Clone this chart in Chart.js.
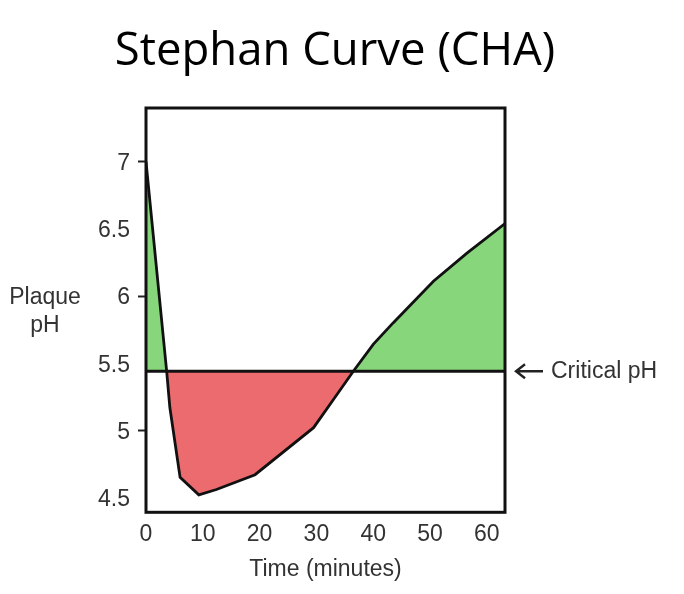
<!DOCTYPE html>
<html>
<head>
<meta charset="utf-8">
<script src="https://cdn.jsdelivr.net/npm/chart.js@4.4.1/dist/chart.umd.min.js"></script>
<style>
  html, body { margin: 0; padding: 0; background: #ffffff; }
  #wrap { width: 684px; height: 594px; }
</style>
</head>
<body>
<div id="wrap"><canvas id="c" width="684" height="594"></canvas></div>
<script>
// ---- data ----
const chartTitle = 'Stephan Curve (CHA)';
const xAxisTitle = 'Time (minutes)';
const yAxisTitleLines = ['Plaque', 'pH'];
const criticalLabel = 'Critical pH';

const times    = [0, 3.64, 4.2, 6.0, 9.3, 12.4, 19.2, 29.5, 33.0, 36.5, 40.0, 43.5, 50.6, 56.5, 63.2];
const plaquePH = [7.0, 5.44, 5.17, 4.65, 4.52, 4.56, 4.67, 5.02, 5.23, 5.44, 5.64, 5.80, 6.11, 6.32, 6.54];
const criticalPH = 5.44;

const xTicks = [0, 10, 20, 30, 40, 50, 60];
const yTicks = [4.5, 5, 5.5, 6, 6.5, 7];
const yTickLabels = ['4.5', '5', '5.5', '6', '6.5', '7'];
const yMajorTicks = [5, 6, 7];

const xMin = 0, xMax = 63.2;
const yMin = 4.39, yMax = 7.4;

// ---- styling ----
const GREEN = '#88d67b';
const RED = '#ec6b6f';
const LABEL_FONT = "'Liberation Sans', Arial, sans-serif";
const LABEL_SIZE = 23;
const TEXT_COLOR = '#333333';

const curvePoints = times.map((t, i) => ({ x: t, y: plaquePH[i] }));
const criticalPoints = [{ x: xMin, y: criticalPH }, { x: xMax, y: criticalPH }];

const decorations = {
  id: 'decorations',
  afterDraw(chart) {
    const { ctx, chartArea: a } = chart;
    ctx.save();
    // frame
    ctx.strokeStyle = '#111';
    ctx.lineWidth = 3;
    ctx.strokeRect(a.left, a.top, a.right - a.left, a.bottom - a.top);

    // title
    ctx.fillStyle = '#000';
    ctx.font = "45.5px 'Open Sans', sans-serif";
    ctx.textAlign = 'center';
    ctx.textBaseline = 'alphabetic';
    ctx.fillText(chartTitle, 335, 65);

    // y axis title (horizontal, two lines)
    ctx.fillStyle = TEXT_COLOR;
    ctx.font = LABEL_SIZE + 'px ' + LABEL_FONT;
    ctx.textBaseline = 'middle';
    ctx.fillText(yAxisTitleLines[0], 45, 298);
    ctx.fillText(yAxisTitleLines[1], 45, 326);

    // critical pH arrow + label
    const yC = chart.scales.y.getPixelForValue(criticalPH);
    const x0 = a.right + 11, x1 = a.right + 38;
    ctx.strokeStyle = '#222';
    ctx.lineWidth = 2.4;
    ctx.beginPath();
    ctx.moveTo(x1, yC);
    ctx.lineTo(x0 + 1, yC);
    ctx.moveTo(x0 + 9, yC - 7);
    ctx.lineTo(x0, yC);
    ctx.lineTo(x0 + 9, yC + 7);
    ctx.stroke();
    ctx.fillStyle = TEXT_COLOR;
    ctx.textAlign = 'left';
    ctx.fillText(criticalLabel, a.right + 46, yC);
    ctx.restore();
  }
};

new Chart(document.getElementById('c'), {
  type: 'line',
  data: {
    datasets: [
      {
        label: 'Critical pH',
        data: criticalPoints,
        borderColor: '#111',
        borderWidth: 3,
        pointRadius: 0,
        fill: false,
        tension: 0
      },
      {
        label: 'Plaque pH',
        data: curvePoints,
        borderColor: '#111',
        borderWidth: 2.8,
        pointRadius: 0,
        tension: 0,
        fill: { target: { value: criticalPH }, above: GREEN, below: RED }
      }
    ]
  },
  options: {
    responsive: false,
    animation: false,
    devicePixelRatio: 1,
    layout: { padding: { left: 0, right: 179, top: 108, bottom: 0 } },
    plugins: {
      legend: { display: false },
      tooltip: { enabled: false },
      title: { display: false }
    },
    scales: {
      x: {
        type: 'linear',
        min: xMin,
        max: xMax,
        afterBuildTicks: (s) => { s.ticks = xTicks.map(v => ({ value: v })); },
        afterFit: (s) => { s.height = 594 - 512.3; },
        grid: { display: false, drawTicks: false },
        border: { display: false },
        ticks: {
          color: TEXT_COLOR,
          font: { family: LABEL_FONT, size: LABEL_SIZE },
          padding: 9,
          maxRotation: 0,
          autoSkip: false,
          callback: (v) => String(v)
        },
        title: {
          display: true,
          text: xAxisTitle,
          color: TEXT_COLOR,
          font: { family: LABEL_FONT, size: LABEL_SIZE },
          padding: { top: 0, bottom: 11 }
        }
      },
      y: {
        type: 'linear',
        min: yMin,
        max: yMax,
        afterBuildTicks: (s) => { s.ticks = yTicks.map(v => ({ value: v })); },
        afterFit: (s) => { s.width = 146; },
        grid: {
          display: true,
          drawOnChartArea: false,
          drawTicks: true,
          tickLength: 8,
          tickWidth: 2,
          tickColor: (ctx) => (ctx.tick && yMajorTicks.includes(ctx.tick.value)) ? '#222' : 'rgba(0,0,0,0)'
        },
        border: { display: false },
        ticks: {
          color: TEXT_COLOR,
          font: { family: LABEL_FONT, size: LABEL_SIZE },
          padding: 8,
          labelOffset: 2,
          autoSkip: false,
          callback: (v) => { const i = yTicks.indexOf(v); return i >= 0 ? yTickLabels[i] : ''; }
        }
      }
    }
  },
  plugins: [decorations]
});
</script>
</body>
</html>
